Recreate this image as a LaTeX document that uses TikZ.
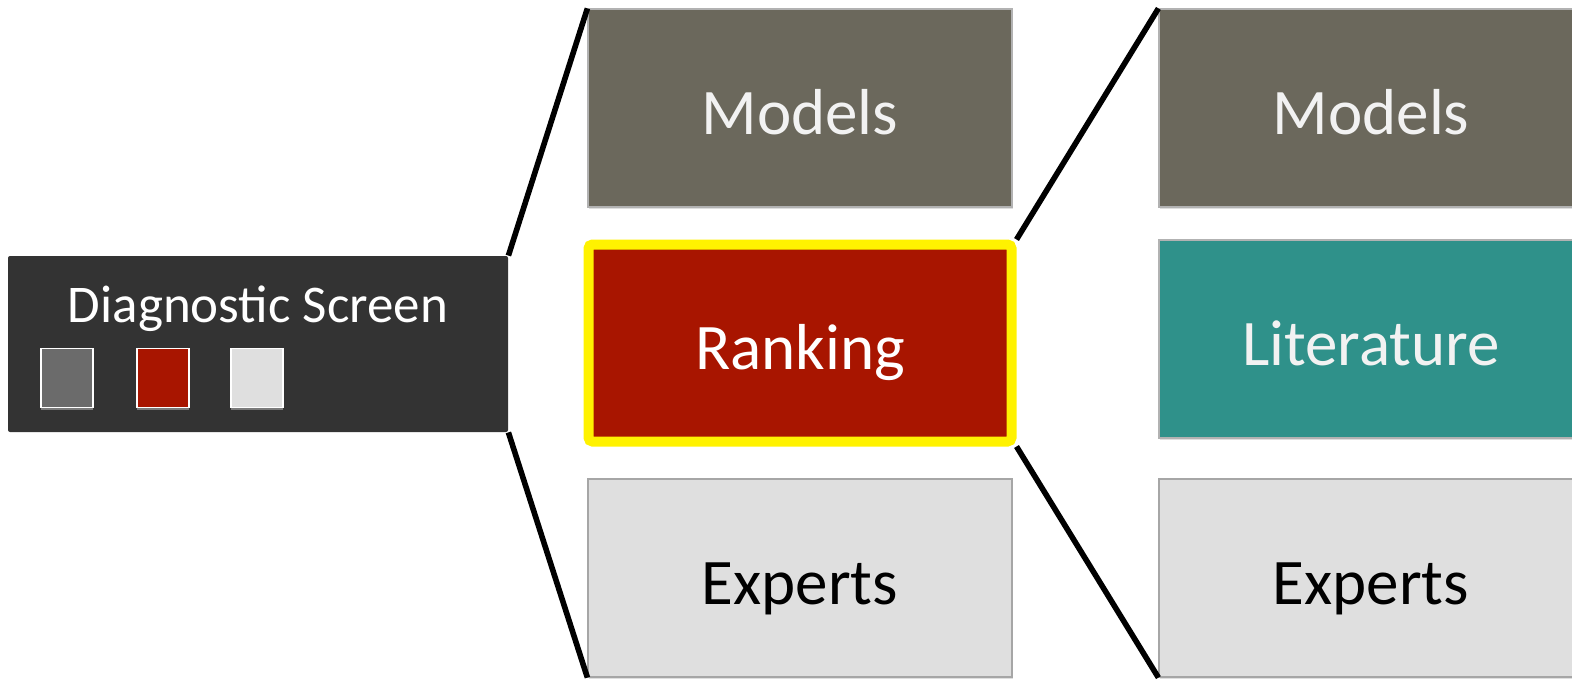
\documentclass[tikz,border=0pt]{standalone}
\usepackage{fontspec}
\setmainfont{Carlito}
\usepackage{xcolor}
\usetikzlibrary{math,shadows}

\definecolor{screenbg}{HTML}{333333}
\definecolor{modelgray}{HTML}{6B685C}
\definecolor{rankred}{HTML}{A81500}
\definecolor{littea}{HTML}{2F918A}
\definecolor{expgray}{HTML}{DFDFDF}
\definecolor{swgray}{HTML}{6B6B6B}

\tikzset{
  box/.style={rectangle, minimum width=212pt, minimum height=99pt, inner sep=0pt,
    draw=black!30, line width=0.6pt, text height=29.25pt, text depth=3.25pt,
    font=\fontsize{32.5}{36}\selectfont,
    drop shadow={shadow xshift=0.4pt, shadow yshift=-1.2pt, opacity=0.25}},
  swatch/.style={rectangle, minimum width=26pt, minimum height=29.5pt, inner sep=0pt,
    draw=white, line width=0.8pt,
    drop shadow={fill=white, shadow xshift=0pt, shadow yshift=-1.2pt, opacity=0.35}},
  link/.style={line width=2.8pt, black}
}

\begin{document}
\begin{tikzpicture}[x=0.5pt,y=-0.5pt]
      \tikzmath{\ca = 800; \cb = 1371; \ra = 108; \rb = 343; \rc = 578;}
      \useasboundingbox (0,0) rectangle (1572,681);
      \clip (0,0) rectangle (1572,681);
      % left panel
      \node[rectangle, fill=screenbg, rounded corners=1pt, minimum width=250pt, minimum height=88pt, inner sep=0pt] (screen) at (258,344) {};
      \node[anchor=base, text=white, font=\fontsize{26.5}{30}\selectfont] (title) at (258,322) {Diagnostic Screen};
      \node[swatch, fill=swgray] (swa) at (67,378) {};
      \node[swatch, fill=rankred] (swb) at (163,378) {};
      \node[swatch, fill=expgray] (swc) at (257,378) {};
      % first column
      \node[box, fill=modelgray, text=white!95!black] (models) at (\ca,\ra) {Models};
      \node[box, fill=rankred, text=white, draw=yellow, line width=5pt, rounded corners=2pt,
            minimum width=211.5pt, minimum height=98.5pt] (ranking) at (\ca,\rb) {Ranking};
      \node[box, fill=expgray, text=black, draw=black!35] (experts) at (\ca,\rc) {Experts};
      % second column
      \node[box, fill=modelgray, text=white!95!black] (rmodels) at (\cb,\ra) {Models};
      \node[box, fill=littea, text=white!95!black] (literature) at (\cb,\rb-4) {Literature};
      \node[box, fill=expgray, text=black, draw=black!35] (rexperts) at (\cb,\rc) {Experts};
      % zoom lines
      \draw[link] (screen.north east) -- (models.north west);
      \draw[link] (screen.south east) -- (experts.south west);
      \draw[link] (ranking.north east) -- (rmodels.north west);
      \draw[link] (ranking.south east) -- (rexperts.south west);
\end{tikzpicture}
\end{document}
